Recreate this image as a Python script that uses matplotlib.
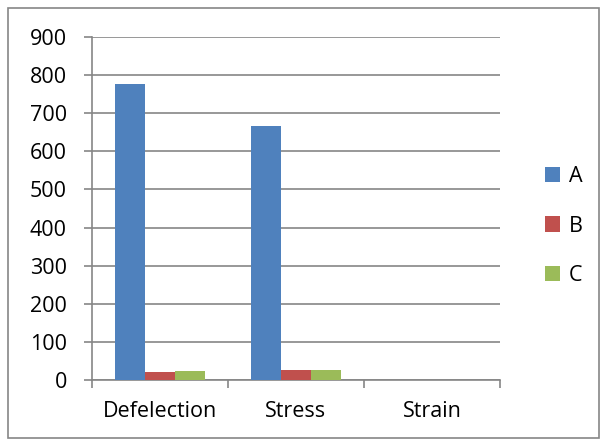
import matplotlib
matplotlib.use("Agg")
import matplotlib.pyplot as plt
import numpy as np
from matplotlib.patches import Rectangle

categories = ["Defelection", "Stress", "Strain"]
series_names = ["A", "B", "C"]
values_A = [777, 666, 0]
values_B = [21, 25, 0]
values_C = [23, 25, 0]
colors = ["#4F81BD", "#C0504D", "#9BBB59"]
yticks = [0, 100, 200, 300, 400, 500, 600, 700, 800, 900]

plt.rcParams['font.family'] = ['Open Sans', 'DejaVu Sans']
FS = 15.5

W, H = 604, 442
fig = plt.figure(figsize=(W/100, H/100), dpi=100)
# outer chart border
fig.patches.append(Rectangle((8/W, 1 - 438/H), (599-8)/W, (438-8)/H, transform=fig.transFigure,
                             fill=False, edgecolor="#868686", linewidth=1.2))

ax = fig.add_axes([92/W, 1 - 380/H, (500-92)/W, (380-37)/H])
x = np.arange(len(categories))
bw = 0.22
for i, (vals, name) in enumerate(zip([values_A, values_B, values_C], series_names)):
    ax.bar(x + (i - 1) * bw, vals, width=bw, color=colors[i], label=name, zorder=3)

ax.set_xlim(-0.5, len(categories) - 0.5)
ax.set_ylim(0, 900)
ax.set_yticks(yticks)
ax.set_yticklabels([str(t) for t in yticks], fontsize=FS)
ax.yaxis.grid(True, color="#868686", linewidth=1.2, zorder=0)
ax.set_xticks(x)
ax.set_xticklabels(categories, fontsize=FS)
ax.tick_params(axis='x', length=0, pad=15)
ax.set_xticks(np.arange(-0.5, len(categories)), minor=True)
ax.tick_params(axis='x', which='minor', length=6, color="#868686", width=1.2)
ax.tick_params(axis='y', length=6, color="#868686", width=1.2, pad=12)
for s in ["top", "right"]:
    ax.spines[s].set_visible(False)
for s in ["left", "bottom"]:
    ax.spines[s].set_color("#868686")
    ax.spines[s].set_linewidth(1.2)

leg = fig.legend(loc="center left", bbox_to_anchor=(526/W, 1 - 226/H), frameon=False,
                 fontsize=FS, handlelength=0.7, handleheight=0.7, labelspacing=1.32,
                 handletextpad=0.4)

fig.savefig("out.png", dpi=100)
